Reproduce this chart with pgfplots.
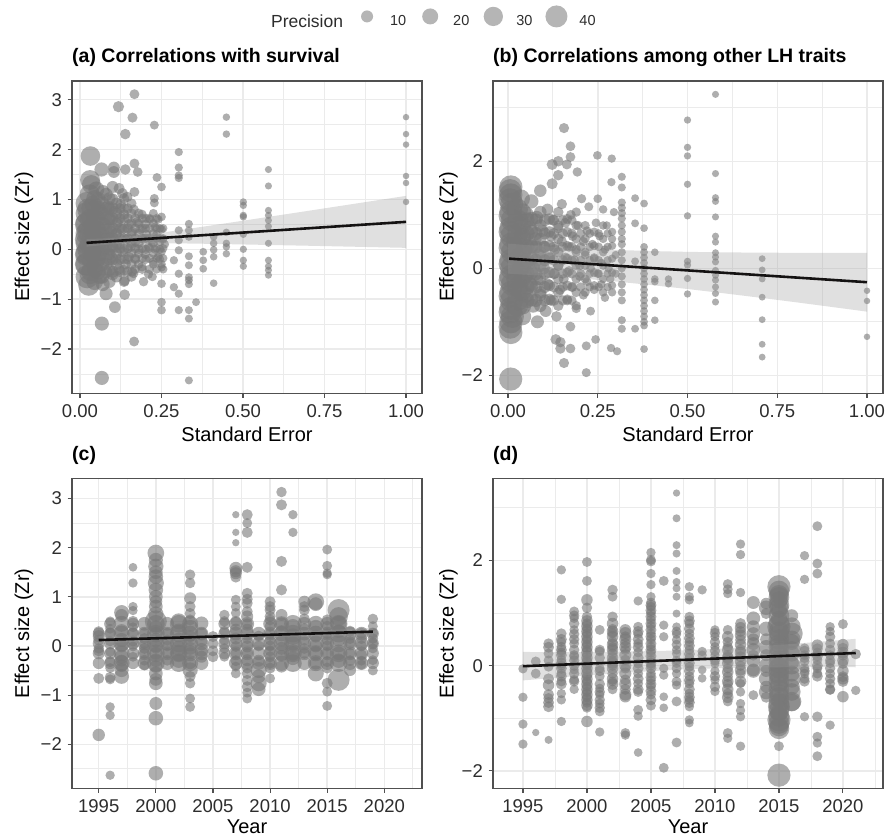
\documentclass[border=0pt]{standalone}
\usepackage{fontspec}
\setmainfont{Liberation Sans}
\usepackage{pgfplots}
\pgfplotsset{compat=1.18}

\definecolor{pt}{RGB}{120,120,120}
\definecolor{gridc}{RGB}{235,235,235}
\definecolor{frm}{RGB}{80,80,80}
\definecolor{tickc}{RGB}{45,45,45}
\definecolor{band}{RGB}{153,153,153}
\definecolor{fit}{RGB}{20,18,18}

\pgfplotsset{
  panel/.style={
    scale only axis, anchor=north west,
    clip marker paths=true,
    axis line style={frm, line width=1.3pt},
    tick style={frm, line width=1.1pt},
    tick align=outside, tick pos=left,
    major tick length=4.5pt, minor tick length=0pt,
    grid=both,
    major grid style={gridc, line width=1.5pt},
    minor grid style={gridc, line width=0.8pt},
    scaled ticks=false,
    tick label style={font=\fontsize{18.5}{20}\selectfont, text=tickc},
    xticklabel style={inner sep=0pt, anchor=north, yshift=-6.5pt},
    yticklabel style={inner sep=0pt, anchor=east, xshift=-5.5pt},
    label style={font=\fontsize{20}{22}\selectfont},
    xlabel style={at={(axis description cs:0.5,0)}, anchor=base, inner sep=0pt, yshift=-48pt},
    ylabel style={anchor=center},
    title style={at={(axis description cs:0,1)}, anchor=base west, inner sep=0pt,
      yshift=12pt, font=\bfseries\fontsize{19.5}{22}\selectfont},
  },
  dots/.style={only marks, mark=*, scatter, forget plot,
    scatter/use mapped color={draw opacity=0, fill=pt, fill opacity=0.6},
    mark options={draw opacity=0},
    scatter/@pre marker code/.append style={/tikz/mark size=\rad pt}},
  dotsSE/.style={dots,
    visualization depends on={0.5*sqrt(31+11.3*min(45,1/\thisrow{x})) \as \rad}},
  dotsYR/.style={dots,
    visualization depends on={0.5*sqrt(31+11.3*\thisrow{p}) \as \rad}},
  ribbon/.style={draw=none, fill=band, fill opacity=0.3, forget plot},
  fitline/.style={draw=fit, draw opacity=1, line width=2.6pt, no marks, forget plot},
  sekey/.style={legend image code/.code={\path[draw=none] (-11pt,5pt) -- (11pt,5pt);
    \fill[pt, draw=none, fill opacity=0.55] (0pt,5pt) circle (#1);}},
}

\begin{document}
\begin{tikzpicture}
\path[use as bounding box] (0,0) rectangle (888pt,838pt);

% (a) survival
\begin{axis}[panel, at={(72pt,757pt)}, width=350pt, height=312.3pt,
  xmin=-0.0245, xmax=1.049, ymin=-2.888, ymax=3.375,
  xtick={0,0.25,0.5,0.75,1}, xticklabels={0.00,0.25,0.50,0.75,1.00},
  minor xtick={0.125,0.375,0.625,0.875},
  ytick={-2,-1,0,1,2,3}, yticklabels={−2,−1,0,1,2,3},
  minor ytick={-2.5,-1.5,-0.5,0.5,1.5,2.5},
  xlabel={Standard Error}, ylabel={Effect size (Zr)},
  ylabel style={at={(axis description cs:-0.137,0.5)}},
  title={(a) Correlations with survival},
  legend style={at={(axis description cs:0.534,1.205)}, anchor=west,
    draw=none, fill=none, inner sep=0pt, legend columns=-1,
    font=\fontsize{14.5}{17}\selectfont, text=tickc,
    nodes={inner sep=0pt},
    /tikz/every odd column/.append style={column sep=12pt},
    /tikz/every even column/.append style={column sep=13pt}},
]
\addplot[dotsSE] table {
x y
0.167 3.11
0.118 2.86
0.161 2.64
0.228 2.49
0.139 2.31
0.449 2.65
0.449 2.31
1.0 2.65
1.0 2.31
1.0 2.10
1.0 1.47
1.0 1.33
1.0 0.95
0.303 1.95
0.303 1.64
0.303 1.48
0.303 1.43
0.032 1.87
0.031 1.39
0.035 1.30
0.066 1.60
0.104 1.64
0.104 1.55
0.139 1.60
0.167 1.72
0.177 1.55
0.236 1.44
0.25 1.25
0.12 1.22
0.167 1.15
0.228 1.02
0.228 0.93
0.501 0.95
0.501 0.88
0.501 0.68
0.501 0.65
0.501 0.30
0.501 0.0
0.501 -0.22
0.501 -0.34
0.578 1.60
0.578 1.27
0.578 0.78
0.578 0.68
0.578 0.58
0.578 0.46
0.578 0.12
0.578 -0.22
0.578 -0.34
0.578 -0.42
0.578 -0.52
0.449 0.34
0.449 0.12
0.449 0.05
0.449 -0.09
0.41 0.25
0.41 0.12
0.41 -0.01
0.41 -0.15
0.41 -0.68
0.378 -0.05
0.378 -0.22
0.378 -0.39
0.334 0.51
0.334 0.38
0.334 0.25
0.334 -0.14
0.334 -0.32
0.334 -0.56
0.334 -0.62
0.334 -0.70
0.334 -1.22
0.334 -1.39
0.334 -2.63
0.303 0.38
0.303 0.18
0.303 -0.02
0.303 -0.49
0.303 -0.89
0.303 -1.22
0.288 -0.22
0.288 -0.76
0.25 -0.36
0.25 -0.69
0.25 -1.06
0.25 -1.22
0.356 -1.06
0.107 -1.16
0.067 -1.49
0.166 -1.85
0.067 -2.58
0.027 -0.72
0.08 -0.89
0.137 -0.63
0.137 -0.91
0.195 -0.65
0.222 -0.55
0.164 -0.48
0.02 0.5
0.02 0.2
0.02 -0.1
0.02 -0.3
0.025 0.8
0.025 0.35
0.025 0.0
0.03 -0.5
0.03 0.6
0.03 0.1
0.035 -0.2
0.035 0.45
0.04 0.9
0.04 0.25
0.04 -0.05
0.045 -0.4
0.05 0.65
0.05 0.15
0.05 -0.25
0.055 1.0
0.055 0.4
0.06 -0.1
0.06 -0.55
0.065 0.75
0.065 0.3
0.07 0.0
0.07 1.15
0.07 -0.7
0.075 0.5
0.08 -0.3
0.08 0.2
0.085 0.85
0.09 -0.1
0.09 0.6
0.095 0.35
0.1 -0.5
0.1 0.05
0.1 1.0
0.105 0.75
0.11 0.3
0.11 -0.2
0.115 0.55
0.12 -0.4
0.12 0.1
0.125 0.9
0.13 0.4
0.13 -0.05
0.135 0.7
0.14 -0.3
0.14 0.2
0.145 1.05
0.15 0.5
0.15 -0.15
0.155 0.05
0.16 0.35
0.16 -0.45
0.165 0.8
0.17 0.15
0.17 -0.2
0.175 0.55
0.18 0.0
0.185 0.4
0.19 -0.35
0.19 0.7
0.195 0.2
0.2 -0.1
0.2 0.5
0.205 0.3
0.21 0.05
0.21 -0.5
0.215 0.6
0.22 0.15
0.225 -0.25
0.23 0.45
0.23 0.0
0.235 0.3
0.24 -0.15
0.24 0.6
0.245 0.15
0.25 -0.05
0.25 0.4
0.25 0.65
0.255 0.2
0.25 -0.3
0.26 0.1
};
% dense core of the survival cloud
\addplot[dotsSE] table[row sep=\\] {
x y\\
0.022 -0.55\\ 0.022 -0.3\\ 0.022 -0.08\\ 0.022 0.12\\ 0.022 0.32\\ 0.022 0.52\\ 0.022 0.72\\ 0.022 0.92\\
0.045 -0.65\\ 0.045 -0.42\\ 0.045 -0.2\\ 0.045 0.0\\ 0.045 0.22\\ 0.045 0.42\\ 0.045 0.62\\ 0.045 0.82\\ 0.045 1.02\\
0.068 -0.55\\ 0.068 -0.3\\ 0.068 -0.08\\ 0.068 0.12\\ 0.068 0.32\\ 0.068 0.52\\ 0.068 0.72\\ 0.068 0.92\\
0.09 -0.65\\ 0.09 -0.42\\ 0.09 -0.2\\ 0.09 0.0\\ 0.09 0.22\\ 0.09 0.42\\ 0.09 0.62\\ 0.09 0.82\\ 0.09 1.02\\
0.112 -0.55\\ 0.112 -0.3\\ 0.112 -0.08\\ 0.112 0.12\\ 0.112 0.32\\ 0.112 0.52\\ 0.112 0.72\\ 0.112 0.92\\
0.135 -0.65\\ 0.135 -0.42\\ 0.135 -0.2\\ 0.135 0.0\\ 0.135 0.22\\ 0.135 0.42\\ 0.135 0.62\\ 0.135 0.82\\ 0.135 1.02\\
0.158 -0.55\\ 0.158 -0.3\\ 0.158 -0.08\\ 0.158 0.12\\ 0.158 0.32\\ 0.158 0.52\\ 0.158 0.72\\ 0.158 0.92\\
0.18 -0.3\\ 0.18 -0.08\\ 0.18 0.12\\ 0.18 0.32\\ 0.18 0.52\\ 0.18 0.72\\
0.202 -0.2\\ 0.202 0.0\\ 0.202 0.22\\ 0.202 0.42\\ 0.202 0.62\\
0.225 -0.3\\ 0.225 -0.08\\ 0.225 0.12\\ 0.225 0.32\\ 0.225 0.52\\ 0.225 0.72\\
0.245 -0.2\\ 0.245 0.0\\ 0.245 0.22\\ 0.245 0.42\\
0.03 1.1\\ 0.05 1.2\\ 0.08 1.1\\ 0.1 1.25\\ 0.13 1.12\\
0.033 -0.45\\ 0.033 -0.2\\ 0.033 0.02\\ 0.033 0.22\\ 0.033 0.42\\ 0.033 0.62\\ 0.033 0.82\\
0.056 -0.45\\ 0.056 -0.2\\ 0.056 0.02\\ 0.056 0.22\\ 0.056 0.42\\ 0.056 0.62\\ 0.056 0.82\\
0.079 -0.45\\ 0.079 -0.2\\ 0.079 0.02\\ 0.079 0.22\\ 0.079 0.42\\ 0.079 0.62\\ 0.079 0.82\\
0.101 -0.45\\ 0.101 -0.2\\ 0.101 0.02\\ 0.101 0.22\\ 0.101 0.42\\ 0.101 0.62\\ 0.101 0.82\\
0.123 -0.45\\ 0.123 -0.2\\ 0.123 0.02\\ 0.123 0.22\\ 0.123 0.42\\ 0.123 0.62\\ 0.123 0.82\\
0.146 -0.45\\ 0.146 -0.2\\ 0.146 0.02\\ 0.146 0.22\\ 0.146 0.42\\ 0.146 0.62\\ 0.146 0.82\\
0.169 -0.4\\ 0.169 -0.18\\ 0.169 0.02\\ 0.169 0.22\\ 0.169 0.42\\ 0.169 0.62\\
0.191 -0.4\\ 0.191 -0.18\\ 0.191 0.02\\ 0.191 0.22\\ 0.191 0.42\\ 0.191 0.62\\
0.213 -0.4\\ 0.213 -0.18\\ 0.213 0.02\\ 0.213 0.22\\ 0.213 0.42\\ 0.213 0.62\\
0.235 -0.4\\ 0.235 -0.18\\ 0.235 0.02\\ 0.235 0.22\\ 0.235 0.42\\ 0.235 0.62\\
0.255 -0.4\\ 0.255 -0.18\\ 0.255 0.02\\ 0.255 0.22\\ 0.255 0.42\\
};
\addplot[ribbon] coordinates {
(0.02,0.204)(0.1,0.223)(0.2,0.289)(0.3,0.379)(0.4,0.475)(0.5,0.573)
(0.6,0.672)(0.7,0.771)(0.8,0.871)(0.9,0.971)(1.0,1.071)
(1.0,0.029)(0.9,0.043)(0.8,0.057)(0.7,0.071)(0.6,0.084)(0.5,0.097)
(0.4,0.109)(0.3,0.119)(0.2,0.123)(0.1,0.103)(0.02,0.053)};
\addplot[fitline] coordinates {(0.02,0.129)(1.0,0.55)};
\addlegendimage{empty legend}
\addlegendentry{\fontsize{17.5}{20}\selectfont Precision}
\addlegendimage{sekey=6pt}
\addlegendentry{10}
\addlegendimage{sekey=8pt}
\addlegendentry{20}
\addlegendimage{sekey=9.65pt}
\addlegendentry{30}
\addlegendimage{sekey=11pt}
\addlegendentry{40}
\end{axis}

% (b) other LH traits
\begin{axis}[panel, at={(493pt,757pt)}, width=390pt, height=312.3pt,
  xmin=-0.0418, xmax=1.0446, ymin=-2.336, ymax=3.50,
  xtick={0,0.25,0.5,0.75,1}, xticklabels={0.00,0.25,0.50,0.75,1.00},
  minor xtick={0.125,0.375,0.625,0.875},
  ytick={-2,0,2}, yticklabels={−2,0,2},
  minor ytick={-1,1,3},
  xlabel={Standard Error}, ylabel={Effect size (Zr)},
  ylabel style={at={(axis description cs:-0.114,0.5)}},
  title={(b) Correlations among other LH traits},
]
\addplot[dotsSE] table {
x y
0.578 3.25
0.5 2.77
0.5 2.26
0.5 2.10
0.5 1.57
0.5 0.98
0.5 0.13
0.5 0.06
0.5 -0.19
0.5 -0.48
0.578 1.77
0.578 1.32
0.578 1.25
0.578 0.96
0.578 0.60
0.578 0.49
0.578 0.29
0.578 0.21
0.578 0.12
0.578 -0.04
0.578 -0.13
0.578 -0.22
0.578 -0.35
0.578 -0.47
0.578 -0.63
0.708 0.18
0.708 -0.03
0.708 -0.20
0.708 -0.54
0.708 -0.96
0.708 -1.42
0.708 -1.66
1.0 -0.42
1.0 -0.61
1.0 -1.28
0.156 2.62
0.174 2.28
0.174 2.08
0.123 1.94
0.14 2.0
0.164 1.94
0.249 2.11
0.289 2.05
0.193 1.80
0.14 1.74
0.123 1.58
0.288 1.61
0.317 1.71
0.317 1.51
0.354 1.31
0.379 1.21
0.354 0.84
0.379 0.75
0.409 0.30
0.409 -0.20
0.409 -0.25
0.409 -0.60
0.409 -0.97
0.447 -0.20
0.447 -0.29
0.354 0.13
0.354 -1.13
0.287 -1.49
0.304 -1.55
0.244 -1.33
0.218 -1.45
0.218 -1.95
0.156 -1.77
0.174 -1.50
0.146 -1.38
0.146 -1.50
0.133 -1.33
0.174 -1.09
0.0075 -2.07
0.082 -1.0
0.008 1.52
0.008 1.37
0.01 1.2
0.008 1.05
0.012 0.9
0.008 0.75
0.01 0.6
0.008 0.45
0.012 0.3
0.008 0.15
0.01 0.0
0.008 -0.15
0.012 -0.3
0.008 -0.45
0.01 -0.6
0.008 -0.75
0.012 -0.9
0.008 -1.0
0.008 -1.2
0.025 1.1
0.025 0.5
0.025 -0.2
0.025 -0.7
0.03 0.8
0.03 0.2
0.03 -0.4
0.035 1.3
0.035 0.0
0.04 0.6
0.04 -0.9
0.045 0.35
0.045 -0.15
0.05 1.0
0.05 -0.5
0.055 0.1
0.06 0.75
0.06 -0.3
0.065 1.25
0.065 0.4
0.07 -0.7
0.07 0.0
0.075 0.55
0.08 -0.2
0.08 0.95
0.085 0.25
0.09 -0.5
0.09 1.45
0.095 0.7
0.1 0.0
0.1 0.4
0.105 -0.8
0.11 1.1
0.11 -0.3
0.115 0.2
0.12 0.6
0.12 -0.6
0.125 0.9
0.13 -0.1
0.13 0.35
0.135 -0.9
0.14 0.75
0.14 0.05
0.145 -0.4
0.15 1.2
0.15 0.5
0.155 -0.2
0.16 0.2
0.16 0.85
0.165 -0.6
0.17 0.4
0.17 -0.05
0.175 1.0
0.18 -0.35
0.18 0.6
0.185 0.15
0.19 -0.75
0.19 0.35
0.195 0.8
0.2 -0.15
0.2 0.05
0.205 1.3
0.21 0.5
0.21 -0.5
0.215 0.25
0.22 -0.25
0.22 0.7
0.225 1.15
0.23 0.0
0.23 -0.8
0.235 0.45
0.24 0.2
0.24 -0.4
0.245 0.85
0.25 -0.1
0.25 1.3
0.255 0.6
0.26 0.1
0.26 -0.3
0.265 1.1
0.27 0.35
0.27 -0.55
0.275 0.8
0.28 0.0
0.285 -0.2
0.29 0.55
0.29 -0.45
0.295 1.05
0.3 0.25
0.3 -0.1
0.317 1.23
0.317 1.13
0.317 1.03
0.317 0.93
0.317 0.80
0.317 0.68
0.317 0.55
0.317 0.45
0.317 0.30
0.317 0.15
0.317 0.0
0.317 -0.15
0.317 -0.30
0.317 -0.45
0.317 -0.60
0.317 -0.97
0.317 -1.13
0.379 0.40
0.379 0.30
0.379 0.20
0.379 0.10
0.379 0.0
0.379 -0.10
0.379 -0.20
0.379 -0.30
0.379 -0.40
0.379 -0.50
0.379 -0.60
0.379 -0.70
0.379 -0.80
0.379 -0.90
0.379 -1.00
0.379 -1.07
0.379 -1.51
};
% dense core of the LH-trait cloud
\addplot[dotsSE] table[row sep=\\] {
x y\\
0.006 -1.1\\ 0.006 -0.82\\ 0.006 -0.52\\ 0.006 -0.22\\ 0.006 0.08\\ 0.006 0.38\\ 0.006 0.68\\ 0.006 0.98\\ 0.006 1.28\\ 0.006 1.45\\
0.04 -0.7\\ 0.04 -0.45\\ 0.04 -0.2\\ 0.04 0.05\\ 0.04 0.3\\ 0.04 0.55\\ 0.04 0.8\\ 0.04 1.05\\
0.065 -0.58\\ 0.065 -0.32\\ 0.065 -0.08\\ 0.065 0.18\\ 0.065 0.42\\ 0.065 0.68\\ 0.065 0.92\\
0.09 -0.7\\ 0.09 -0.45\\ 0.09 -0.2\\ 0.09 0.05\\ 0.09 0.3\\ 0.09 0.55\\ 0.09 0.8\\ 0.09 1.05\\
0.115 -0.58\\ 0.115 -0.32\\ 0.115 -0.08\\ 0.115 0.18\\ 0.115 0.42\\ 0.115 0.68\\ 0.115 0.92\\
0.14 -0.7\\ 0.14 -0.45\\ 0.14 -0.2\\ 0.14 0.05\\ 0.14 0.3\\ 0.14 0.55\\ 0.14 0.8\\ 0.14 1.05\\
0.165 -0.58\\ 0.165 -0.32\\ 0.165 -0.08\\ 0.165 0.18\\ 0.165 0.42\\ 0.165 0.68\\ 0.165 0.92\\
0.19 -0.7\\ 0.19 -0.45\\ 0.19 -0.2\\ 0.19 0.05\\ 0.19 0.3\\ 0.19 0.55\\ 0.19 0.8\\ 0.19 1.05\\
0.215 -0.45\\ 0.215 -0.2\\ 0.215 0.05\\ 0.215 0.3\\ 0.215 0.55\\ 0.215 0.8\\
0.24 -0.32\\ 0.24 -0.08\\ 0.24 0.18\\ 0.24 0.42\\ 0.24 0.68\\
0.265 -0.45\\ 0.265 -0.2\\ 0.265 0.05\\ 0.265 0.3\\ 0.265 0.55\\ 0.265 0.8\\
0.29 -0.32\\ 0.29 -0.08\\ 0.29 0.18\\ 0.29 0.42\\ 0.29 0.68\\
0.0275 -0.6\\ 0.0275 -0.35\\ 0.0275 -0.1\\ 0.0275 0.15\\ 0.0275 0.4\\ 0.0275 0.65\\ 0.0275 0.9\\
0.0525 -0.6\\ 0.0525 -0.35\\ 0.0525 -0.1\\ 0.0525 0.15\\ 0.0525 0.4\\ 0.0525 0.65\\ 0.0525 0.9\\
0.0775 -0.6\\ 0.0775 -0.35\\ 0.0775 -0.1\\ 0.0775 0.15\\ 0.0775 0.4\\ 0.0775 0.65\\ 0.0775 0.9\\
0.1025 -0.6\\ 0.1025 -0.35\\ 0.1025 -0.1\\ 0.1025 0.15\\ 0.1025 0.4\\ 0.1025 0.65\\ 0.1025 0.9\\
0.1275 -0.6\\ 0.1275 -0.35\\ 0.1275 -0.1\\ 0.1275 0.15\\ 0.1275 0.4\\ 0.1275 0.65\\ 0.1275 0.9\\
0.1525 -0.6\\ 0.1525 -0.35\\ 0.1525 -0.1\\ 0.1525 0.15\\ 0.1525 0.4\\ 0.1525 0.65\\ 0.1525 0.9\\
0.1775 -0.6\\ 0.1775 -0.35\\ 0.1775 -0.1\\ 0.1775 0.15\\ 0.1775 0.4\\ 0.1775 0.65\\ 0.1775 0.9\\
0.2025 -0.35\\ 0.2025 -0.1\\ 0.2025 0.15\\ 0.2025 0.4\\ 0.2025 0.65\\
0.2275 -0.35\\ 0.2275 -0.1\\ 0.2275 0.15\\ 0.2275 0.4\\ 0.2275 0.65\\
0.2525 -0.35\\ 0.2525 -0.1\\ 0.2525 0.15\\ 0.2525 0.4\\ 0.2525 0.65\\
0.2775 -0.35\\ 0.2775 -0.1\\ 0.2775 0.15\\ 0.2775 0.4\\ 0.2775 0.65\\
};
\addplot[ribbon] coordinates {
(0.0,0.46)(0.1,0.411)(0.2,0.372)(0.3,0.343)(0.4,0.322)(0.5,0.307)
(0.6,0.298)(0.7,0.292)(0.8,0.289)(0.9,0.289)(1.0,0.29)
(1.0,-0.81)(0.9,-0.721)(0.8,-0.633)(0.7,-0.548)(0.6,-0.466)(0.5,-0.387)
(0.4,-0.314)(0.3,-0.247)(0.2,-0.188)(0.1,-0.139)(0.0,-0.10)};
\addplot[fitline] coordinates {(0.003,0.18)(1.0,-0.26)};
\end{axis}

% (c) survival by year
\begin{axis}[panel, at={(72pt,359.7pt)}, width=350pt, height=310pt,
  xmin=1992.66, xmax=2023.3, ymin=-2.896, ymax=3.41,
  xtick={1995,2000,2005,2010,2015,2020},
  xticklabels={1995,2000,2005,2010,2015,2020},
  minor xtick={1992.5,1997.5,2002.5,2007.5,2012.5,2017.5,2022.5},
  ytick={-2,-1,0,1,2,3}, yticklabels={−2,−1,0,1,2,3},
  minor ytick={-2.5,-1.5,-0.5,0.5,1.5,2.5},
  xlabel={Year}, ylabel={Effect size (Zr)},
  xlabel style={yshift=2.5pt},
  ylabel style={at={(axis description cs:-0.137,0.5)}},
  title={(c)},
]
\addplot[dotsYR] table {
x y p
1995 0.29 8
1995 0.20 10
1995 0.12 8
1995 -0.05 7
1995 -0.10 8
1995 -0.66 8
1995 -1.81 11
1996 0.50 6
1996 0.35 6
1996 0.26 8
1996 0.10 7
1996 -0.12 6
1996 -0.32 8
1996 -0.45 6
1996 -0.64 8
1996 -0.68 6
1996 -1.24 5
1996 -1.41 5
1996 -2.63 5
1997 0.68 17
1997 0.62 12
1997 0.30 15
1997 0.12 15
1997 0.0 12
1997 -0.22 15
1997 -0.30 10
1997 -0.40 12
1997 -0.49 15
1997 -0.62 17
1998 1.60 4
1998 1.28 5
1998 0.80 5
1998 0.72 5
1998 0.50 8
1998 0.38 6
1998 0.26 8
1998 0.10 8
1998 -0.01 6
1998 -0.22 6
1999 0.26 8
1999 0.15 8
1999 0.05 8
1999 -0.05 8
1999 -0.15 8
1999 -0.29 8
1999 -0.40 6
2000 1.89 22
2000 1.75 15
2000 1.62 18
2000 1.50 14
2000 1.41 16
2000 1.28 20
2000 1.14 16
2000 1.00 14
2000 0.90 12
2000 0.80 14
2000 0.65 18
2000 0.50 40
2000 0.38 14
2000 0.26 12
2000 0.12 16
2000 -0.01 14
2000 -0.15 12
2000 -0.29 14
2000 -0.42 12
2000 -0.56 14
2000 -0.68 12
2000 -0.76 14
2000 -1.17 12
2000 -1.47 16
2000 -2.59 16
2001 0.26 8
2001 0.12 8
2001 0.0 8
2001 -0.15 8
2001 -0.29 8
2002 0.50 20
2002 0.30 18
2002 0.12 16
2002 -0.05 18
2002 -0.15 20
2002 -0.30 16
2003 1.45 7
2003 1.28 7
2003 0.97 10
2003 0.80 8
2003 0.66 8
2003 0.53 8
2003 0.36 22
2003 0.20 10
2003 0.12 10
2003 -0.05 12
2003 -0.15 10
2003 -0.35 10
2003 -0.49 18
2003 -0.62 8
2003 -0.76 7
2003 -1.07 6
2003 -1.24 6
2004 0.46 14
2004 0.25 10
2004 0.10 10
2004 -0.08 14
2004 -0.22 10
2005 0.19 8
2005 0.05 8
2005 -0.10 8
2005 -0.22 8
2006 0.63 7
2006 0.50 7
2006 0.30 7
2006 0.12 7
2006 -0.05 7
2006 -0.22 6
2007 2.67 2
2007 2.31 2
2007 2.10 2
2007 1.58 12
2007 1.52 10
2007 1.48 10
2007 1.40 8
2007 0.94 6
2007 0.80 6
2007 0.67 6
2007 0.50 8
2007 0.33 10
2007 0.15 10
2007 -0.01 8
2007 -0.15 8
2007 -0.30 8
2007 -0.42 6
2007 -0.56 6
2008 2.67 8
2008 2.50 6
2008 2.31 8
2008 1.60 8
2008 1.07 8
2008 0.95 8
2008 0.87 8
2008 0.70 8
2008 0.60 10
2008 0.45 8
2008 0.33 10
2008 0.15 8
2008 -0.01 10
2008 -0.15 8
2008 -0.29 10
2008 -0.45 8
2008 -0.56 8
2008 -0.70 8
2008 -0.83 8
2008 -0.95 6
2008 -1.07 6
2009 0.20 8
2009 0.0 8
2009 -0.30 10
2009 -0.49 20
2009 -0.62 14
2009 -0.76 20
2009 -0.88 14
2010 0.90 8
2010 0.80 8
2010 0.73 8
2010 0.60 8
2010 0.53 8
2010 0.40 8
2010 0.25 8
2010 0.12 8
2010 0.0 8
2010 -0.10 8
2010 -0.22 8
2010 -0.35 8
2010 -0.45 8
2010 -0.66 6
2011 3.13 7
2011 2.87 8
2011 1.72 8
2011 1.14 8
2011 0.63 10
2011 0.45 12
2011 0.30 10
2011 0.12 12
2011 -0.05 12
2011 -0.20 10
2011 -0.42 10
2012 2.67 5
2012 2.31 5
2012 0.40 16
2012 0.19 22
2012 0.05 16
2012 -0.15 16
2012 -0.25 14
2013 0.90 10
2013 0.80 8
2013 0.73 8
2013 0.55 8
2013 0.35 8
2013 0.12 8
2013 -0.05 8
2013 -0.15 8
2014 0.90 22
2014 0.85 14
2014 0.39 14
2014 0.20 12
2014 0.0 12
2014 -0.15 14
2014 -0.35 12
2014 -0.56 20
2015 1.96 6
2015 1.63 6
2015 1.48 5
2015 1.45 5
2015 0.53 8
2015 0.40 8
2015 0.25 8
2015 0.12 8
2015 0.0 8
2015 -0.15 8
2015 -0.32 8
2015 -0.45 8
2015 -0.76 8
2015 -0.93 6
2015 -1.22 6
2016 0.73 40
2016 0.60 28
2016 0.45 20
2016 0.30 14
2016 0.12 12
2016 -0.15 14
2016 -0.30 16
2016 -0.69 40
2017 0.30 8
2017 0.15 8
2017 0.05 8
2017 -0.15 8
2017 -0.30 8
2017 -0.49 10
2018 0.26 8
2018 0.15 8
2018 0.0 8
2018 -0.18 8
2018 -0.30 6
2018 -0.38 6
2019 0.55 7
2019 0.40 6
2019 0.26 7
2019 0.15 7
2019 0.05 7
2019 -0.05 6
2019 -0.29 6
2019 -0.50 6
};
% dense centre band of each year
\addplot[dotsYR] table[row sep=\\] {
x y p\\
1995 -0.35 10\\ 1995 -0.15 10\\ 1995 0.05 10\\ 1995 0.25 10\\
1996 -0.35 10\\ 1996 -0.15 10\\ 1996 0.05 10\\ 1996 0.25 10\\ 1996 0.45 10\\
1997 -0.35 20\\ 1997 -0.15 20\\ 1997 0.05 20\\ 1997 0.25 20\\ 1997 0.45 20\\
1998 -0.35 10\\ 1998 -0.15 10\\ 1998 0.05 10\\ 1998 0.25 10\\ 1998 0.45 10\\
1999 -0.35 14\\ 1999 -0.15 14\\ 1999 0.05 14\\ 1999 0.25 14\\ 1999 0.45 14\\
2000 -0.35 25\\ 2000 -0.15 25\\ 2000 0.05 25\\ 2000 0.25 25\\ 2000 0.45 25\\
2001 -0.35 14\\ 2001 -0.15 14\\ 2001 0.05 14\\ 2001 0.25 14\\ 2001 0.45 14\\
2002 -0.35 25\\ 2002 -0.15 25\\ 2002 0.05 25\\ 2002 0.25 25\\ 2002 0.45 25\\
2003 -0.35 20\\ 2003 -0.15 20\\ 2003 0.05 20\\ 2003 0.25 20\\ 2003 0.45 20\\
2004 -0.35 14\\ 2004 -0.15 14\\ 2004 0.05 14\\ 2004 0.25 14\\
2006 -0.15 10\\ 2006 0.05 10\\ 2006 0.25 10\\ 2006 0.45 10\\
2007 -0.35 14\\ 2007 -0.15 14\\ 2007 0.05 14\\ 2007 0.25 14\\ 2007 0.45 14\\
2008 -0.35 14\\ 2008 -0.15 14\\ 2008 0.05 14\\ 2008 0.25 14\\ 2008 0.45 14\\
2009 -0.35 14\\ 2009 -0.15 14\\ 2009 0.05 14\\ 2009 0.25 14\\
2010 -0.35 14\\ 2010 -0.15 14\\ 2010 0.05 14\\ 2010 0.25 14\\ 2010 0.45 14\\
2011 -0.35 18\\ 2011 -0.15 18\\ 2011 0.05 18\\ 2011 0.25 18\\ 2011 0.45 18\\
2012 -0.35 25\\ 2012 -0.15 25\\ 2012 0.05 25\\ 2012 0.25 25\\ 2012 0.45 25\\
2013 -0.35 14\\ 2013 -0.15 14\\ 2013 0.05 14\\ 2013 0.25 14\\ 2013 0.45 14\\
2014 -0.35 20\\ 2014 -0.15 20\\ 2014 0.05 20\\ 2014 0.25 20\\ 2014 0.45 20\\
2015 -0.35 14\\ 2015 -0.15 14\\ 2015 0.05 14\\ 2015 0.25 14\\ 2015 0.45 14\\
2016 -0.35 25\\ 2016 -0.15 25\\ 2016 0.05 25\\ 2016 0.25 25\\ 2016 0.45 25\\
2017 -0.35 14\\ 2017 -0.15 14\\ 2017 0.05 14\\ 2017 0.25 14\\
2018 -0.35 14\\ 2018 -0.15 14\\ 2018 0.05 14\\ 2018 0.25 14\\
2019 -0.35 10\\ 2019 -0.15 10\\ 2019 0.05 10\\ 2019 0.25 10\\
};
\addplot[ribbon] coordinates {
(1995,0.20)(2000,0.21)(2005,0.24)(2010,0.28)(2015,0.32)(2019,0.37)
(2019,0.21)(2015,0.20)(2010,0.18)(2005,0.16)(2000,0.12)(1995,0.04)};
\addplot[fitline] coordinates {(1995,0.12)(2019,0.29)};
\end{axis}

% (d) other LH traits by year
\begin{axis}[panel, at={(493pt,359.7pt)}, width=390pt, height=310pt,
  xmin=1992.66, xmax=2023.13, ymin=-2.33, ymax=3.56,
  xtick={1995,2000,2005,2010,2015,2020},
  xticklabels={1995,2000,2005,2010,2015,2020},
  minor xtick={1992.5,1997.5,2002.5,2007.5,2012.5,2017.5,2022.5},
  ytick={-2,0,2}, yticklabels={−2,0,2},
  minor ytick={-1,1,3},
  xlabel={Year}, ylabel={Effect size (Zr)},
  xlabel style={yshift=2.5pt},
  ylabel style={at={(axis description cs:-0.114,0.5)}},
  title={(d)},
]
\addplot[dotsYR] table {
x y p
1995 -0.06 5
1995 -0.60 5
1995 -1.11 5
1995 -1.49 5
1996 0.08 6
1996 -0.15 6
1996 -1.27 2
1997 0.42 7
1997 0.23 6
1997 0.10 6
1997 -0.02 6
1997 -0.37 9
1997 -0.62 7
1997 -0.78 8
1997 -1.41 3
1998 1.82 5
1998 1.26 5
1998 0.61 7
1998 0.45 6
1998 0.36 6
1998 0.25 6
1998 0.11 6
1998 0.0 6
1998 -0.15 6
1998 -0.30 6
1998 -0.53 5
1998 -0.65 5
1998 -1.06 5
1999 1.03 6
1999 0.90 5
1999 0.68 5
1999 0.42 6
1999 0.20 6
1999 0.17 6
1999 -0.08 5
1999 -0.27 6
1999 -0.45 5
2000 1.97 6
2000 1.61 6
2000 1.25 9
2000 1.10 7
2000 0.93 7
2000 0.80 7
2000 0.70 7
2000 0.61 7
2000 0.50 7
2000 0.40 7
2000 0.30 7
2000 0.20 7
2000 0.11 7
2000 0.0 7
2000 -0.10 7
2000 -0.20 7
2000 -0.30 7
2000 -0.40 7
2000 -0.50 7
2000 -0.60 7
2000 -0.70 7
2000 -0.80 6
2000 -1.06 9
2001 0.68 6
2001 0.27 6
2001 -0.05 6
2001 -0.20 6
2001 -0.43 5
2001 -0.55 5
2001 -0.72 6
2001 -0.87 6
2001 -1.26 5
2002 1.44 7
2002 1.31 6
2002 0.93 7
2002 0.70 6
2002 0.61 7
2002 0.45 7
2002 0.35 7
2002 0.23 7
2002 0.10 7
2002 0.0 7
2002 -0.15 7
2002 -0.30 6
2002 -0.45 6
2003 0.68 9
2003 0.55 8
2003 0.42 8
2003 0.30 7
2003 0.11 7
2003 -0.05 7
2003 -0.27 8
2003 -0.45 8
2003 -0.59 9
2003 -1.28 6
2003 -1.32 5
2004 1.23 5
2004 0.74 6
2004 0.60 6
2004 0.42 6
2004 0.25 6
2004 0.04 6
2004 -0.15 6
2004 -0.34 6
2004 -0.50 6
2004 -0.84 6
2004 -0.96 5
2004 -1.65 4
2005 2.15 5
2005 2.01 6
2005 1.98 6
2005 1.75 5
2005 1.54 5
2005 1.31 5
2005 1.20 6
2005 1.12 6
2005 1.00 6
2005 0.87 6
2005 0.75 6
2005 0.61 6
2005 0.50 6
2005 0.36 6
2005 0.25 6
2005 0.11 6
2005 0.0 6
2005 -0.15 6
2005 -0.28 6
2005 -0.40 6
2005 -0.55 6
2005 -0.76 6
2006 1.61 6
2006 0.77 5
2006 0.55 5
2006 -0.05 5
2006 -0.18 5
2006 -0.59 4
2006 -0.80 4
2006 -1.94 6
2007 3.28 2
2007 2.80 3
2007 2.29 3
2007 2.13 3
2007 1.80 3
2007 1.59 3
2007 1.47 3
2007 1.31 3
2007 0.99 3
2007 0.74 4
2007 0.60 5
2007 0.49 5
2007 0.30 5
2007 0.23 5
2007 0.10 5
2007 -0.15 5
2007 -0.37 5
2007 -0.68 6
2007 -1.46 6
2008 1.50 5
2008 1.31 5
2008 1.25 5
2008 0.93 6
2008 0.80 6
2008 0.61 6
2008 0.45 6
2008 0.30 6
2008 0.15 6
2008 -0.02 6
2008 -0.20 6
2008 -0.34 6
2008 -0.53 6
2008 -0.65 6
2008 -0.78 5
2008 -1.03 5
2008 -1.09 4
2009 1.44 5
2009 0.27 5
2009 0.20 5
2009 -0.08 4
2009 -0.24 4
2010 0.68 5
2010 0.55 5
2010 0.36 5
2010 0.20 5
2010 0.04 5
2010 -0.10 5
2010 -0.27 5
2010 -0.49 5
2011 1.55 6
2011 1.45 6
2011 1.37 5
2011 0.68 6
2011 0.45 7
2011 0.36 7
2011 0.20 7
2011 0.11 7
2011 -0.05 7
2011 -0.21 7
2011 -0.35 7
2011 -0.53 7
2011 -0.68 6
2011 -1.28 6
2011 -1.38 5
2012 2.31 5
2012 2.11 5
2012 1.39 5
2012 0.80 8
2012 0.65 8
2012 0.49 8
2012 0.30 8
2012 0.17 8
2012 0.0 7
2012 -0.15 7
2012 -0.34 5
2012 -0.50 5
2012 -0.72 5
2012 -0.85 5
2012 -0.97 5
2012 -1.53 5
2013 1.20 12
2013 0.74 12
2013 0.50 10
2013 0.42 12
2013 0.20 8
2013 -0.08 12
2013 -0.56 6
2014 1.18 9
2014 0.99 8
2014 0.50 10
2014 0.20 10
2014 -0.10 10
2014 -0.40 10
2014 -0.60 8
2015 1.50 45
2015 1.35 30
2015 1.25 25
2015 1.10 30
2015 1.06 20
2015 0.90 20
2015 0.74 45
2015 0.60 30
2015 0.42 30
2015 0.30 25
2015 0.11 30
2015 0.0 25
2015 -0.10 20
2015 -0.21 30
2015 -0.35 25
2015 -0.53 30
2015 -0.65 20
2015 -0.78 40
2015 -0.90 25
2015 -1.03 45
2015 -1.16 30
2015 -1.53 6
2015 -2.08 45
2016 0.95 12
2016 0.61 40
2016 0.45 20
2016 0.23 20
2016 0.05 15
2016 -0.15 20
2016 -0.40 20
2016 -0.68 30
2017 2.09 5
2017 1.64 5
2017 0.33 6
2017 0.20 6
2017 0.08 6
2017 -0.05 6
2017 -0.15 6
2017 -0.25 6
2017 -0.97 5
2018 2.65 6
2018 1.94 6
2018 1.75 6
2018 0.39 9
2018 0.25 6
2018 0.11 6
2018 -0.05 6
2018 -0.15 6
2018 -0.97 7
2018 -1.35 6
2018 -1.47 5
2018 -1.72 6
2019 0.74 5
2019 0.65 5
2019 0.42 6
2019 0.20 6
2019 0.05 6
2019 -0.15 6
2019 -0.34 6
2019 -0.46 6
2019 -1.13 5
2020 0.79 6
2020 0.33 8
2020 0.20 8
2020 0.04 7
2020 -0.21 8
2020 -0.30 8
2020 -0.59 9
2021 0.22 7
2021 -0.47 5
};
% stacked studies within each year
\addplot[dotsYR] table[row sep=\\] {
x y p\\
1997 -0.7 8\\ 1997 -0.55 8\\ 1997 -0.25 8\\ 1997 0.35 8\\
1998 -0.35 8\\ 1998 -0.2 8\\ 1998 -0.05 8\\ 1998 0.05 8\\ 1998 0.2 8\\ 1998 0.3 8\\ 1998 0.5 8\\
1999 -0.3 7\\ 1999 -0.15 7\\ 1999 0.0 7\\ 1999 0.1 7\\ 1999 0.3 7\\ 1999 0.5 7\\ 1999 0.6 7\\ 1999 0.8 7\\ 1999 0.95 7\\
2000 -0.75 9\\ 2000 -0.65 9\\ 2000 -0.55 9\\ 2000 -0.45 9\\ 2000 -0.35 9\\ 2000 -0.25 9\\ 2000 -0.15 9\\ 2000 -0.05 9\\ 2000 0.05 9\\
2000 0.15 9\\ 2000 0.25 9\\ 2000 0.35 9\\ 2000 0.45 9\\ 2000 0.55 9\\ 2000 0.65 9\\ 2000 0.75 9\\ 2000 0.85 9\\
2001 -0.8 7\\ 2001 -0.65 7\\ 2001 -0.5 7\\ 2001 -0.35 7\\ 2001 -0.1 7\\ 2001 0.15 7\\ 2001 0.3 7\\
2002 -0.35 9\\ 2002 -0.25 9\\ 2002 -0.05 9\\ 2002 0.05 9\\ 2002 0.15 9\\ 2002 0.3 9\\ 2002 0.4 9\\ 2002 0.55 9\\ 2002 0.65 9\\ 2002 0.8 9\\
2003 -0.55 10\\ 2003 -0.35 10\\ 2003 -0.15 10\\ 2003 0.0 10\\ 2003 0.2 10\\ 2003 0.35 10\\ 2003 0.5 10\\ 2003 0.62 10\\
2004 -0.45 8\\ 2004 -0.25 8\\ 2004 -0.05 8\\ 2004 0.15 8\\ 2004 0.35 8\\ 2004 0.5 8\\ 2004 0.65 8\\
2005 -0.65 8\\ 2005 -0.48 8\\ 2005 -0.35 8\\ 2005 -0.22 8\\ 2005 -0.05 8\\ 2005 0.05 8\\ 2005 0.18 8\\ 2005 0.3 8\\ 2005 0.42 8\\
2005 0.55 8\\ 2005 0.68 8\\ 2005 0.8 8\\ 2005 0.93 8\\ 2005 1.05 8\\ 2005 1.15 8\\
2007 -0.3 6\\ 2007 -0.05 6\\ 2007 0.05 6\\ 2007 0.4 6\\ 2007 0.65 6\\
2008 -0.7 8\\ 2008 -0.6 8\\ 2008 -0.45 8\\ 2008 -0.28 8\\ 2008 -0.1 8\\ 2008 0.05 8\\ 2008 0.22 8\\ 2008 0.38 8\\ 2008 0.52 8\\ 2008 0.7 8\\ 2008 0.85 8\\
2010 -0.4 7\\ 2010 -0.2 7\\ 2010 0.1 7\\ 2010 0.28 7\\ 2010 0.45 7\\ 2010 0.62 7\\
2011 -0.6 9\\ 2011 -0.45 9\\ 2011 -0.3 9\\ 2011 -0.12 9\\ 2011 0.05 9\\ 2011 0.15 9\\ 2011 0.3 9\\ 2011 0.55 9\\
2012 -0.3 9\\ 2012 -0.08 9\\ 2012 0.08 9\\ 2012 0.25 9\\ 2012 0.4 9\\ 2012 0.58 9\\ 2012 0.72 9\\
2013 -0.1 14\\ 2013 0.1 14\\ 2013 0.3 14\\ 2013 0.6 14\\ 2013 0.9 14\\
2014 -0.5 16\\ 2014 -0.25 16\\ 2014 0.0 16\\ 2014 0.35 16\\ 2014 0.7 16\\ 2014 1.1 16\\
2015 -1.2 35\\ 2015 -1.1 35\\ 2015 -0.97 35\\ 2015 -0.85 35\\ 2015 -0.72 35\\ 2015 -0.6 35\\ 2015 -0.45 35\\ 2015 -0.3 35\\
2015 -0.15 35\\ 2015 -0.05 35\\ 2015 0.05 35\\ 2015 0.2 35\\ 2015 0.35 35\\ 2015 0.5 35\\ 2015 0.65 35\\ 2015 0.8 35\\
2015 0.95 35\\ 2015 1.15 35\\ 2015 1.3 35\\ 2015 1.42 35\\
2016 -0.7 25\\ 2016 -0.5 25\\ 2016 -0.25 25\\ 2016 0.0 25\\ 2016 0.3 25\\ 2016 0.5 25\\ 2016 0.75 25\\
2017 -0.3 7\\ 2017 -0.1 7\\ 2017 0.15 7\\ 2017 0.28 7\\
2018 -0.2 8\\ 2018 0.0 8\\ 2018 0.18 8\\ 2018 0.32 8\\
2019 -0.45 7\\ 2019 -0.25 7\\ 2019 -0.05 7\\ 2019 0.1 7\\ 2019 0.3 7\\ 2019 0.55 7\\
2020 -0.25 9\\ 2020 -0.1 9\\ 2020 0.1 9\\ 2020 0.25 9\\ 2020 0.4 9\\
};
\addplot[ribbon] coordinates {
(1995,0.26)(2000,0.258)(2005,0.276)(2008,0.295)(2012,0.343)(2016,0.412)(2021,0.51)
(2021,-0.03)(2016,-0.028)(2012,-0.037)(2008,-0.065)(2005,-0.104)(2000,-0.182)(1995,-0.28)};
\addplot[fitline] coordinates {(1995,-0.01)(2021,0.24)};
\end{axis}
\end{tikzpicture}
\end{document}
